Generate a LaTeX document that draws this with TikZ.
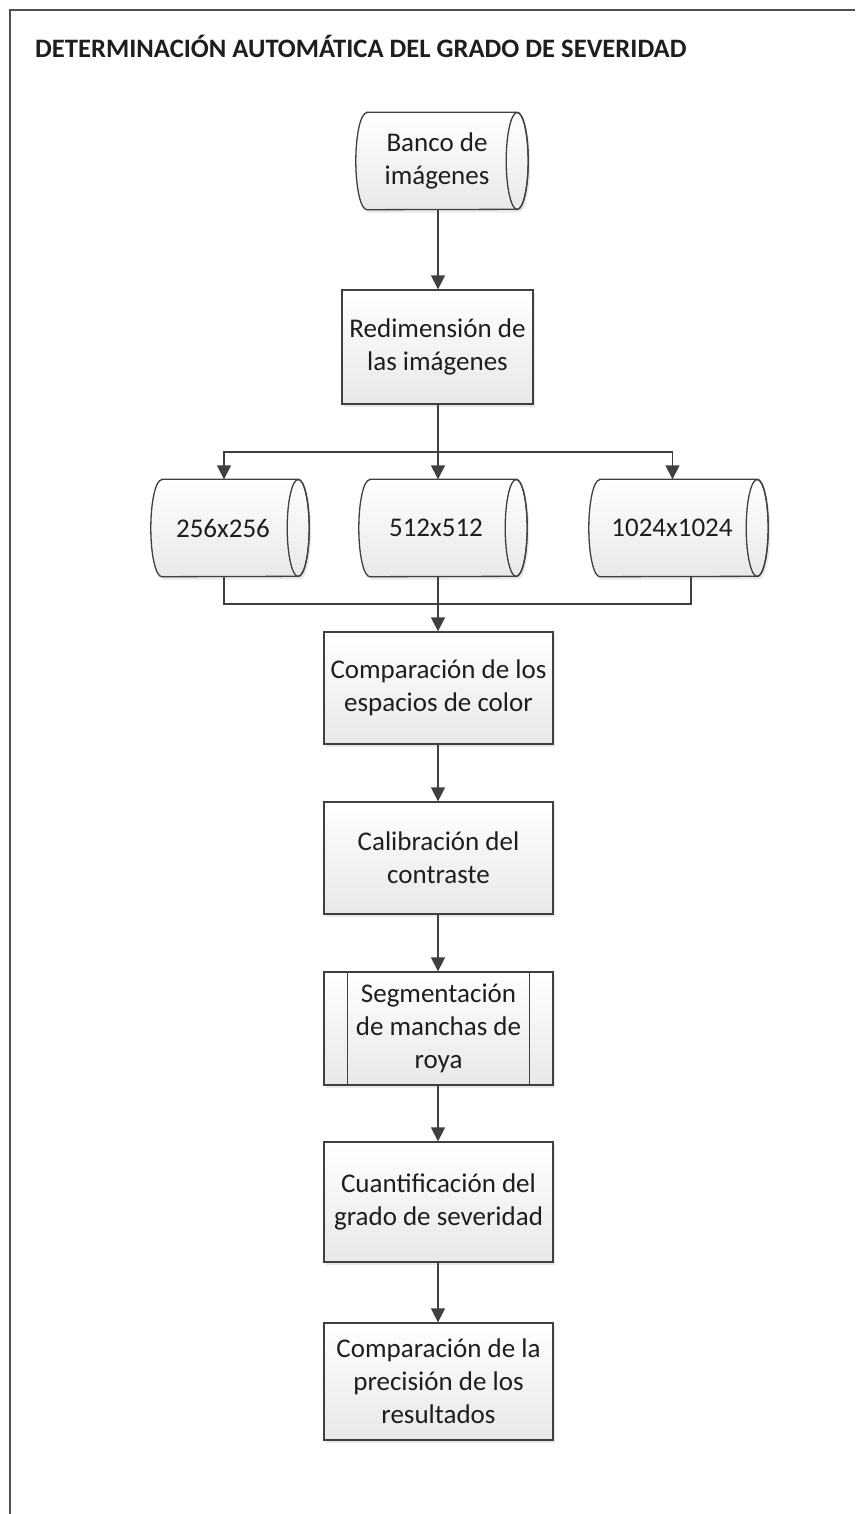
\documentclass[tikz,border=0pt]{standalone}
\usepackage{fontspec}
\setmainfont{Carlito}
\usetikzlibrary{arrows.meta,backgrounds,shadows,calc}

\definecolor{edge}{HTML}{404040}
\definecolor{ink}{HTML}{1E1E1E}
\definecolor{frameline}{HTML}{505050}

\tikzset{
  shapeface/.style={top color=white, bottom color=black!9, draw=edge, line width=1.3pt,
    drop shadow={opacity=0.18, shadow xshift=2pt, shadow yshift=-3pt}},
  label/.style={font=\fontsize{27}{33}\selectfont, text=ink, align=center, inner sep=0pt},
  procbox/.style={rectangle, minimum width=229pt, shapeface, label},
  subproc/.style={procbox},
  cylbody/.style={rectangle, inner sep=0pt, label},
  flow/.style={draw=edge, line width=1.4pt, -{Triangle[length=14pt,width=14pt]}},
  link/.style={draw=edge, line width=1.4pt},
}

% horizontal storage cylinder behind the text node #1, end radius #2
\newcommand\storecyl[2]{%
  \path[shapeface] (#1.north west) -- (#1.north east)
    arc[start angle=90, end angle=-90, x radius=#2, y radius=48.5pt]
    -- (#1.south west)
    arc[start angle=270, end angle=90, x radius=#2, y radius=48.5pt] -- cycle;
  \draw[edge, line width=1.3pt] ($(#1.north east)!0.5!(#1.south east)$)
    ellipse[x radius=#2, y radius=48.5pt];
}

\begin{document}
\begin{tikzpicture}[x=1pt, y=1pt]
  \useasboundingbox (0,0) rectangle (855,-1514);
  \begin{pgfonlayer}{background}
    \fill[white] (0,0) rectangle (855,-1514);
  \end{pgfonlayer}

  % outer frame
  \draw[frameline, line width=2pt] (855,-10) -- (10,-10) -- (10,-1514);

  % heading
  \node[anchor=west, inner sep=0pt, text=ink,
        font=\bfseries\fontsize{26.6}{30}\selectfont] (title) at (35,-46)
    {DETERMINACIÓN AUTOMÁTICA DEL GRADO DE SEVERIDAD};

  % storage shapes (text nodes; outlines drawn on the background layer)
  \node[cylbody, minimum width=150pt, minimum height=97pt] (banco) at (442,-161) {};
  \node[label] (bancotxt) at (437,-161) {Banco de\\imágenes};

  \node[cylbody, minimum width=136pt, minimum height=97pt] (c256) at (230,-528) {};
  \node[label] (c256txt) at (223,-528) {256x256};
  \node[cylbody, minimum width=146pt, minimum height=97pt] (c512) at (443,-528) {};
  \node[label] (c512txt) at (436,-528) {512x512};
  \node[cylbody, minimum width=157pt, minimum height=97pt] (c1024) at (678.5,-528) {};
  \node[label] (c1024txt) at (672,-528) {1024x1024};

  % process boxes
  \node[procbox, minimum width=191pt, minimum height=114pt] (redim) at (437.5,-347)
    {Redimensión de\\las imágenes};
  \node[procbox, minimum height=112pt] (comp) at (438.5,-688)
    {Comparación de los\\espacios de color};
  \node[procbox, minimum height=112pt] (calib) at (438.5,-858)
    {Calibración del\\contraste};
  \node[subproc, minimum height=113pt] (segm) at (438.5,-1028.5)
    {Segmentación\\de manchas de\\roya};
  \draw[edge, line width=1.3pt]
    ([xshift=24pt]segm.north west) -- ([xshift=24pt]segm.south west)
    ([xshift=-24pt]segm.north east) -- ([xshift=-24pt]segm.south east);
  \node[procbox, minimum height=120pt] (cuant) at (438.5,-1202)
    {Cuantificación del\\grado de severidad};
  \node[procbox, minimum height=117pt] (prec) at (438.5,-1381.5)
    {Comparación de la\\precisión de los\\resultados};

  \begin{pgfonlayer}{background}
    \storecyl{banco}{11pt}
    \storecyl{c256}{11pt}
    \storecyl{c512}{11pt}
    \storecyl{c1024}{11pt}
  \end{pgfonlayer}

  % connectors
  \coordinate (split) at (438,-452);
  \coordinate (join) at (438,-604);

  \draw[flow] (banco.south -| split) -- (redim.north -| split);
  \draw[link] (redim.south -| split) -- (split);
  \draw[flow] (split) -| ([xshift=-6pt]c256.north);
  \draw[flow] (split) -| ([xshift=-6pt]c1024.north);
  \draw[flow] (split) -- (c512.north -| split);

  \draw[link] ([xshift=-6pt]c256.south) |- (join);
  \draw[link] ([xshift=12.5pt]c1024.south) |- (join);
  \draw[link] (c512.south -| join) -- (join);
  \draw[flow] (join) -- (comp.north -| join);

  \draw[flow] (comp.south -| join) -- (calib.north -| join);
  \draw[flow] (calib.south -| join) -- (segm.north -| join);
  \draw[flow] (segm.south -| join) -- (cuant.north -| join);
  \draw[flow] (cuant.south -| join) -- (prec.north -| join);
\end{tikzpicture}
\end{document}
